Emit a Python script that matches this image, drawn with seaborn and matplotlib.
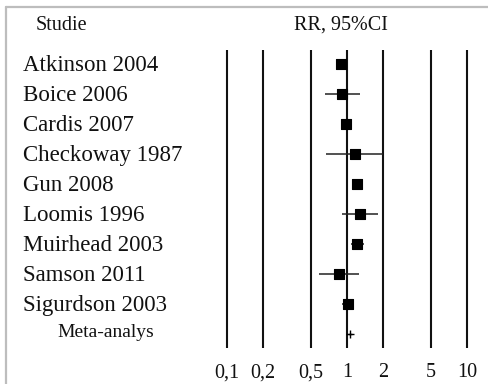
import matplotlib
matplotlib.use("Agg")
import matplotlib.pyplot as plt
from matplotlib.lines import Line2D
from matplotlib.transforms import blended_transform_factory
import seaborn as sns
import pandas as pd

# Forest plot data: relative risk with 95% confidence interval per study
studies = ["Atkinson 2004", "Boice 2006", "Cardis 2007", "Checkoway 1987",
           "Gun 2008", "Loomis 1996", "Muirhead 2003", "Samson 2011",
           "Sigurdson 2003"]
rr = [0.89, 0.91, 0.99, 1.16, 1.21, 1.29, 1.20, 0.86, 1.01]
ci_low = [0.85, 0.66, 0.95, 0.67, 1.15, 0.91, 1.07, 0.58, 0.90]
ci_high = [0.95, 1.29, 1.04, 1.98, 1.28, 1.83, 1.39, 1.27, 1.15]
marker_area = [42, 42, 42, 42, 42, 42, 42, 62, 42]

meta_label = "Meta-analys"
meta_rr = 1.06
meta_low = 1.01
meta_high = 1.11

tick_values = [0.1, 0.2, 0.5, 1, 2, 5, 10]
tick_labels = ["0,1", "0,2", "0,5", "1", "2", "5", "10"]

sns.set_theme(style="white")
plt.rcParams["font.family"] = ["Liberation Serif", "DejaVu Serif"]

W, H = 489, 384
fig = plt.figure(figsize=(W / 100, H / 100), dpi=100)
fig.patch.set_facecolor("white")

# axes spanning the plotting area (pixels 200..489 horizontally, 50..348 vertically)
ax = fig.add_axes([200 / W, 1 - 348 / H, 289 / W, 298 / H])
ax.set_xscale("log")
ax.set_xlim(10 ** (-1 - 27 / 120), 10 ** (1 + 22 / 120))
n_rows = len(studies) + 1
ax.set_ylim(n_rows - 1 + 0.467, -0.467)
for s in ax.spines.values():
    s.set_visible(False)
ax.set_yticks([])
ax.set_xticks(tick_values)
ax.set_xticklabels(tick_labels, fontsize=14.5)
ax.xaxis.set_minor_locator(matplotlib.ticker.NullLocator())
ax.tick_params(axis="x", length=0, pad=11, colors="#111111")

for v in tick_values:
    ax.axvline(v, color="#111111", lw=1.5, zorder=1)

df = pd.DataFrame({"study": studies, "rr": rr, "lo": ci_low, "hi": ci_high,
                   "row": range(len(studies)), "area": marker_area})

ax.hlines(df["row"], df["lo"], df["hi"], color="#222222", lw=1.1, zorder=2)
for _, r in df.iterrows():
    sns.scatterplot(x=[r["rr"]], y=[r["row"]], marker="s", s=r["area"],
                    color="black", edgecolor="black", linewidth=0.8,
                    ax=ax, zorder=3, legend=False)

meta_row = len(studies)
ax.hlines(meta_row, meta_low, meta_high, color="#222222", lw=1.0, zorder=2)
sns.scatterplot(x=[meta_rr], y=[meta_row], marker="+", s=30, color="black",
                linewidth=1.0, ax=ax, zorder=3, legend=False)
ax.set_xlabel("")
ax.set_ylabel("")

# study names on the left
trans = blended_transform_factory(fig.transFigure, ax.transData)
for i, name in enumerate(studies):
    fig.text(23 / W, 0, name, transform=trans, fontsize=16.5, va="center",
             ha="left", color="#111111")
    fig.texts[-1].set_y(i + 0.05)
fig.text(57 / W, 0, meta_label, transform=trans, fontsize=14, va="center",
         ha="left", color="#111111")
fig.texts[-1].set_y(meta_row - 0.05)

# column headers
fig.text(36 / W, 1 - 25 / H, "Studie", fontsize=14.5, va="center", ha="left",
         color="#111111")
fig.text(341 / W, 1 - 25 / H, "RR, 95%CI", fontsize=14.5, va="center",
         ha="center", color="#111111")

# light frame along the top and left edges
fig.add_artist(Line2D([5.5 / W, 5.5 / W], [0, 1 - 7 / H], transform=fig.transFigure,
                      color="#bdbdbd", lw=1.6))
fig.add_artist(Line2D([5.5 / W, 1], [1 - 7 / H, 1 - 7 / H], transform=fig.transFigure,
                      color="#bdbdbd", lw=1.6))

fig.savefig("out.png", dpi=100, facecolor="white")
